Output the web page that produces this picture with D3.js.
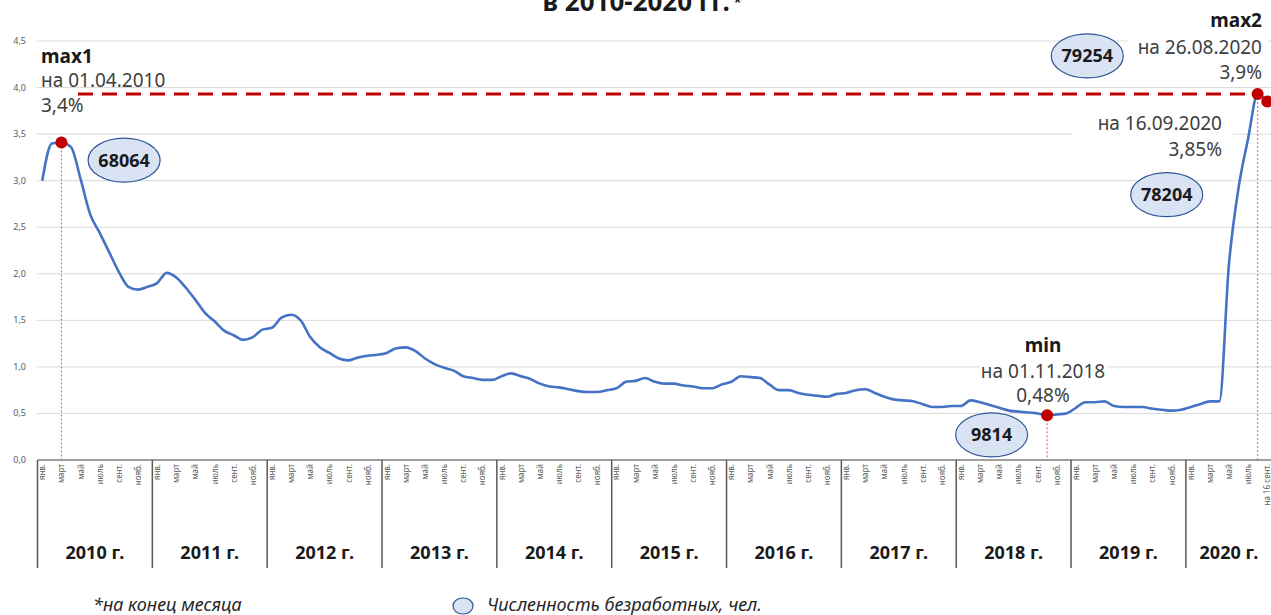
<!DOCTYPE html>
<html>
<head>
<meta charset="utf-8">
<script src="https://cdn.jsdelivr.net/npm/d3@7"></script>
<style>
  body { margin: 0; background: #fff; }
  svg { display: block; font-family: "Noto Sans", sans-serif; }
</style>
</head>
<body>
<div id="chart"></div>
<script>

// unemployment rate, % (end of month), one array per year
var rate2010 = [3.00, 3.40, 3.41, 3.36, 3.02, 2.64, 2.44, 2.23, 2.02, 1.86, 1.83, 1.86];
var rate2011 = [1.90, 2.01, 1.96, 1.85, 1.72, 1.58, 1.49, 1.39, 1.34, 1.29, 1.32, 1.40];
var rate2012 = [1.42, 1.53, 1.56, 1.50, 1.32, 1.21, 1.15, 1.09, 1.07, 1.10, 1.12, 1.13];
var rate2013 = [1.15, 1.20, 1.21, 1.17, 1.09, 1.03, 0.99, 0.96, 0.90, 0.88, 0.86, 0.86];
var rate2014 = [0.90, 0.93, 0.90, 0.87, 0.82, 0.79, 0.78, 0.76, 0.74, 0.73, 0.73, 0.75];
var rate2015 = [0.77, 0.84, 0.85, 0.88, 0.84, 0.82, 0.82, 0.80, 0.79, 0.77, 0.77, 0.81];
var rate2016 = [0.84, 0.90, 0.89, 0.88, 0.81, 0.75, 0.75, 0.72, 0.70, 0.69, 0.68, 0.71];
var rate2017 = [0.72, 0.75, 0.76, 0.72, 0.68, 0.65, 0.64, 0.63, 0.60, 0.57, 0.57, 0.58];
var rate2018 = [0.58, 0.64, 0.62, 0.59, 0.56, 0.53, 0.52, 0.51, 0.50, 0.48, 0.49, 0.50];
var rate2019 = [0.56, 0.62, 0.62, 0.63, 0.58, 0.57, 0.57, 0.57, 0.55, 0.54, 0.53, 0.54];
var rate2020 = [0.57, 0.60, 0.63, 0.63, 2.10, 2.92, 3.45, 3.93, 3.85];

var years = ["2010 г.", "2011 г.", "2012 г.", "2013 г.", "2014 г.", "2015 г.",
             "2016 г.", "2017 г.", "2018 г.", "2019 г.", "2020 г."];
var months = ["янв.", "фев.", "март", "апр.", "май", "июнь",
              "июль", "авг.", "сент.", "окт.", "нояб.", "дек."];
var lastMonth = "на 16 сент.";
var yTicks = [0, 0.5, 1, 1.5, 2, 2.5, 3, 3.5, 4, 4.5];

// marked points (series index) and their notes
var markIdx = [2, 105, 127, 128];
var dropIdx = [2, 105, 127];
var noteMax1 = ["max1", "на 01.04.2010", "3,4%"];
var noteMax2 = ["max2", "на 26.08.2020", "3,9%"];
var noteSep = ["на 16.09.2020", "3,85%"];
var noteMin = ["min", "на 01.11.2018", "0,48%"];

// number of unemployed, people (bubble labels)
var unemployed = ["68064", "79254", "78204", "9814"];
// where each bubble sits: [series index, value]
var bubbleAt = [[8.55, 3.22], [109.2, 4.34], [117.5, 2.85], [99.2, 0.27]];

var title = "в 2010-2020 гг.";
var footnote = "*на конец месяца";
var legendText = "Численность безработных, чел.";

var width = 1271, height = 615;

// build flat table
var series = [rate2010, rate2011, rate2012, rate2013, rate2014, rate2015,
              rate2016, rate2017, rate2018, rate2019, rate2020];
var data = [];
series.forEach(function (arr, y) {
    arr.forEach(function (v, m) {
        var label = (y == series.length - 1 && m == arr.length - 1) ? lastMonth : months[m];
        data.push({ i: data.length, year: y, m: m, v: v, label: label });
    });
});

var svg = d3.select("#chart").append("svg")
    .attr("width", width)
    .attr("height", height);

var x = d3.scaleBand()
    .domain(d3.range(data.length))
    .range([37.5, 1272]);
var bw = x.bandwidth();
function cx(i) { return x(Math.floor(i)) + bw / 2 + (i - Math.floor(i)) * bw; }

var y = d3.scaleLinear().domain([0, 4.5]).range([460, 41]);

//gridlines
svg.append("g").selectAll("line")
    .data(yTicks.slice(1))
    .enter().append("line")
    .attr("x1", 37).attr("x2", width)
    .attr("y1", function (d) { return y(d); })
    .attr("y2", function (d) { return y(d); })
    .style("stroke", "#d9d9d9")
    .style("stroke-width", 1);

//y labels
var comma = d3.formatLocale({ decimal: ",", thousands: " ", grouping: [3], currency: ["", ""] }).format(".1f");
svg.append("g").selectAll("text")
    .data(yTicks)
    .enter().append("text")
    .attr("x", 26)
    .attr("y", function (d) { return y(d) + 3; })
    .attr("text-anchor", "end")
    .style("font-size", "9px")
    .style("fill", "#595959")
    .text(function (d) { return comma(d); });

//title (only the lower line is in frame)
var t = svg.append("text")
    .attr("x", 642).attr("y", 11)
    .attr("text-anchor", "middle")
    .style("font-size", "26px").style("font-weight", "bold").style("fill", "#1a1a1a")
    .text(title);
t.append("tspan").attr("dx", 4).attr("dy", -4).style("font-size", "14px").text("*");

//axis box: baseline, year separators
var axisG = svg.append("g");
axisG.append("line")
    .attr("x1", 37.5).attr("x2", width)
    .attr("y1", y(0)).attr("y2", y(0))
    .style("stroke", "#7f7f7f").style("stroke-width", 1.5);

var yearStarts = d3.range(years.length).map(function (k) { return k * 12; });
axisG.selectAll(".sep")
    .data(yearStarts)
    .enter().append("line")
    .attr("class", "sep")
    .attr("x1", function (d) { return x(d); })
    .attr("x2", function (d) { return x(d); })
    .attr("y1", y(0)).attr("y2", 568)
    .style("stroke", "#595959").style("stroke-width", 1.5);

axisG.selectAll(".year")
    .data(years)
    .enter().append("text")
    .attr("class", "year")
    .attr("x", function (d, k) {
        var a = k * 12, b = Math.min((k + 1) * 12, data.length);
        return (x(a) + x(b - 1) + bw) / 2;
    })
    .attr("y", 559)
    .attr("text-anchor", "middle")
    .style("font-size", "18px").style("font-weight", "bold").style("fill", "#1a1a1a")
    .text(function (d) { return d; });

//month labels, every other month plus the last one
axisG.selectAll(".mon")
    .data(data.filter(function (d) { return d.m % 2 == 0 || d.label == lastMonth; }))
    .enter().append("text")
    .attr("class", "mon")
    .attr("transform", function (d) { return "translate(" + (cx(d.i) + 3) + "," + (y(0) + 4) + ") rotate(-90)"; })
    .attr("text-anchor", "end")
    .style("font-size", "8px").style("fill", "#595959")
    .text(function (d) { return d.label; });

//white boxes behind some notes (under the line)
var boxes = [[1128, 8, 140, 76], [1073, 110, 160, 52], [980, 334, 128, 60]];
svg.append("g").selectAll("rect")
    .data(boxes)
    .enter().append("rect")
    .attr("x", function (d) { return d[0]; })
    .attr("y", function (d) { return d[1]; })
    .attr("width", function (d) { return d[2]; })
    .attr("height", function (d) { return d[3]; })
    .style("fill", "#fff");

//red dotted drop lines
svg.append("g").selectAll("line")
    .data(dropIdx)
    .enter().append("line")
    .attr("x1", function (d) { return cx(d); })
    .attr("x2", function (d) { return cx(d); })
    .attr("y1", function (d) { return y(data[d].v); })
    .attr("y2", y(0))
    .style("stroke", "#e05a5a").style("stroke-width", 1)
    .style("stroke-dasharray", "2,2");

//the line
var line = d3.line()
    .x(function (d) { return cx(d.i); })
    .y(function (d) { return y(d.v); })
    .curve(d3.curveMonotoneX);

svg.append("path")
    .datum(data)
    .attr("d", line)
    .style("fill", "none")
    .style("stroke", "#4472c4")
    .style("stroke-width", 2.6)
    .style("stroke-linejoin", "round");

//dashed red level line from max1 note to max2
svg.append("line")
    .attr("x1", 78).attr("x2", cx(127))
    .attr("y1", y(data[127].v)).attr("y2", y(data[127].v))
    .style("stroke", "#c00000").style("stroke-width", 3)
    .style("stroke-dasharray", "15,9");

//red dots
svg.append("g").selectAll("circle")
    .data(markIdx)
    .enter().append("circle")
    .attr("cx", function (d) { return cx(d); })
    .attr("cy", function (d) { return y(data[d].v); })
    .attr("r", 6)
    .style("fill", "#c00000");

//note texts
function note(lines, xPos, baselines, anchor) {
    svg.append("g").selectAll("text")
        .data(lines)
        .enter().append("text")
        .attr("x", xPos)
        .attr("y", function (d, k) { return baselines[k]; })
        .attr("text-anchor", anchor)
        .style("font-size", "19px")
        .style("font-weight", function (d) { return /^m/.test(d) ? "bold" : "normal"; })
        .style("fill", function (d) { return /^m/.test(d) ? "#1a1a1a" : "#404040"; })
        .text(function (d) { return d; });
}
note(noteMax1, 41, [63, 87, 112], "start");
note(noteMax2, 1262, [27, 54, 79], "end");
note(noteSep, 1222, [130, 156], "end");
note(noteMin, 1043, [352, 378, 402], "middle");

//bubbles with number of unemployed
var bub = svg.append("g").selectAll("g")
    .data(unemployed)
    .enter().append("g")
    .attr("transform", function (d, k) {
        return "translate(" + cx(bubbleAt[k][0]) + "," + y(bubbleAt[k][1]) + ")";
    });
bub.append("ellipse")
    .attr("rx", 36).attr("ry", 22)
    .style("fill", "#dae3f3")
    .style("stroke", "#2f5597").style("stroke-width", 1.2);
bub.append("text")
    .attr("y", 6.5)
    .attr("text-anchor", "middle")
    .style("font-size", "18px").style("font-weight", "bold").style("fill", "#1a1a1a")
    .text(function (d) { return d; });

//footnote and legend
svg.append("text")
    .attr("x", 93).attr("y", 611)
    .style("font-size", "18px").style("font-style", "italic").style("fill", "#262626")
    .text(footnote);

svg.append("ellipse")
    .attr("cx", 463).attr("cy", 606)
    .attr("rx", 10).attr("ry", 8)
    .style("fill", "#dae3f3")
    .style("stroke", "#2f5597").style("stroke-width", 1.2);
svg.append("text")
    .attr("x", 487).attr("y", 611)
    .style("font-size", "18px").style("font-style", "italic").style("fill", "#262626")
    .text(legendText);

</script>
</body>
</html>
